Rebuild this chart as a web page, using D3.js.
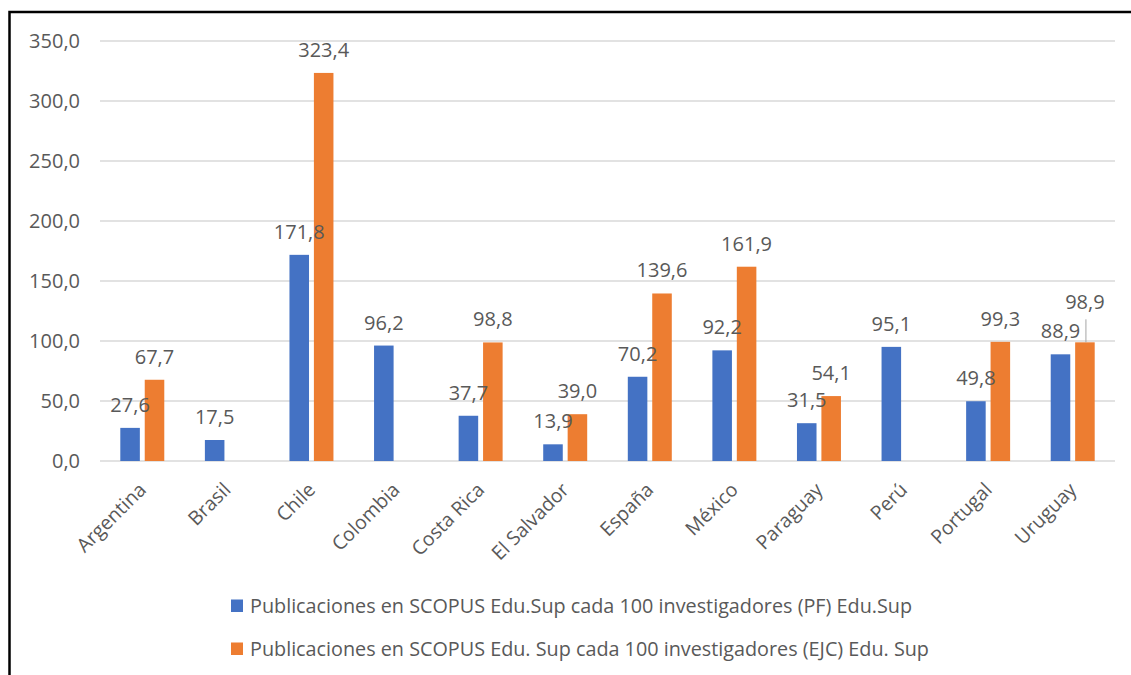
<!DOCTYPE html>
<html>
<head>
<meta charset="utf-8">
<script src="https://cdn.jsdelivr.net/npm/d3@7"></script>
<style>
  body { margin: 0; background: #fff; }
  svg { font-family: "Open Sans", "Noto Sans", sans-serif; }
</style>
</head>
<body>
<div id="chart"></div>
<script>
// Daten
const paises = ["Argentina", "Brasil", "Chile", "Colombia", "Costa Rica", "El Salvador",
  "España", "México", "Paraguay", "Perú", "Portugal", "Uruguay"];
const serieNombres = [
  "Publicaciones en SCOPUS Edu.Sup cada 100 investigadores (PF) Edu.Sup",
  "Publicaciones en SCOPUS Edu. Sup cada 100 investigadores (EJC) Edu. Sup"
];
const valoresPF = [27.6, 17.5, 171.8, 96.2, 37.7, 13.9, 70.2, 92.2, 31.5, 95.1, 49.8, 88.9];
const valoresEJC = [67.7, null, 323.4, null, 98.8, 39.0, 139.6, 161.9, 54.1, null, 99.3, 98.9];
const yTicks = [0, 50, 100, 150, 200, 250, 300, 350];

const colores = ["#4472C4", "#ED7D31"];
const textColor = "#595959";

// Breite und Höhe
const width = 1131;
const height = 675;
const margin = { top: 41, right: 16, bottom: 214, left: 100 };

const svg = d3.select("#chart")
  .append("svg")
  .attr("width", width)
  .attr("height", height);

svg.append("rect")
  .attr("width", width)
  .attr("height", height)
  .attr("fill", "#fff");

// Rahmen (oben und links)
svg.append("path")
  .attr("d", `M9.5,${height + 5} V12 H${width + 5}`)
  .attr("fill", "none")
  .attr("stroke", "#000")
  .attr("stroke-width", 2.5);

const data = paises.map((p, i) => ({ pais: p, valores: [valoresPF[i], valoresEJC[i]] }));

// Skalen
const x0 = d3.scaleBand()
  .domain(paises)
  .range([margin.left, width - margin.right])
  .paddingInner(0.48)
  .paddingOuter(0.24);

const x1 = d3.scaleBand()
  .domain([0, 1])
  .range([0, x0.bandwidth()])
  .paddingInner(0.2);

const y = d3.scaleLinear()
  .domain([0, 350])
  .range([height - margin.bottom, margin.top]);

const fmt = d3.formatLocale({ decimal: ",", thousands: ".", grouping: [3], currency: ["", ""] }).format(".1f");

// Gitterlinien
svg.append("g")
  .selectAll("line")
  .data(yTicks)
  .join("line")
  .attr("x1", margin.left)
  .attr("x2", width - margin.right)
  .attr("y1", d => y(d))
  .attr("y2", d => y(d))
  .attr("stroke", "#d9d9d9")
  .attr("stroke-width", 1.5);

// Y-Achse
const yAxis = svg.append("g")
  .attr("transform", `translate(${margin.left - 20},0)`)
  .call(d3.axisLeft(y).tickValues(yTicks).tickFormat(fmt).tickSize(0).tickPadding(0));
yAxis.select(".domain").remove();
yAxis.selectAll("text")
  .attr("fill", textColor)
  .attr("font-size", 20)
  .attr("font-family", "Open Sans");

// X-Achse (gedrehte Beschriftung)
const xAxis = svg.append("g")
  .attr("transform", `translate(0,${y(0)})`)
  .call(d3.axisBottom(x0).tickSize(0).tickPadding(0));
xAxis.select(".domain").remove();
xAxis.selectAll("text")
  .attr("fill", textColor)
  .attr("font-size", 19.5)
  .attr("font-family", "Open Sans")
  .attr("text-anchor", "end")
  .attr("dy", null)
  .attr("y", 0)
  .attr("transform", "translate(5,30) rotate(-45)");

// Balken
const groups = svg.append("g")
  .selectAll("g")
  .data(data)
  .join("g")
  .attr("transform", d => `translate(${x0(d.pais)},0)`);

const items = d => d.valores
  .map((v, k) => ({ pais: d.pais, serie: k, v }))
  .filter(e => e.v !== null);

groups.selectAll("rect")
  .data(items)
  .join("rect")
  .attr("x", d => x1(d.serie))
  .attr("width", x1.bandwidth())
  .attr("y", d => y(d.v))
  .attr("height", d => y(0) - y(d.v))
  .attr("fill", d => colores[d.serie]);

// Datenbeschriftungen (Uruguay EJC ist im Original verschoben, mit Führungslinie)
const labelShift = { "Uruguay-1": -17 };

groups.selectAll("text")
  .data(items)
  .join("text")
  .attr("x", d => x1(d.serie) + x1.bandwidth() / 2)
  .attr("y", d => y(d.v) - 16 + (labelShift[d.pais + "-" + d.serie] || 0))
  .attr("text-anchor", "middle")
  .attr("fill", textColor)
  .attr("font-size", 20)
  .text(d => fmt(d.v));

// Führungslinie
const uru = "Uruguay";
const lx = x0(uru) + x1(1) + x1.bandwidth() / 2 + 1;
svg.append("line")
  .attr("x1", lx)
  .attr("x2", lx)
  .attr("y1", y(valoresEJC[11]) - 23)
  .attr("y2", y(valoresEJC[11]))
  .attr("stroke", "#a6a6a6")
  .attr("stroke-width", 1);

// Legende
const legend = svg.append("g")
  .selectAll("g")
  .data(serieNombres)
  .join("g")
  .attr("transform", (d, i) => `translate(231,${606 + i * 43})`);

legend.append("rect")
  .attr("x", 0)
  .attr("y", -6.5)
  .attr("width", 12)
  .attr("height", 12.5)
  .attr("fill", (d, i) => colores[i]);

legend.append("text")
  .attr("x", 19)
  .attr("y", 0)
  .attr("dy", "0.35em")
  .attr("fill", textColor)
  .attr("font-size", 19.8)
  .text(d => d);
</script>
</body>
</html>
